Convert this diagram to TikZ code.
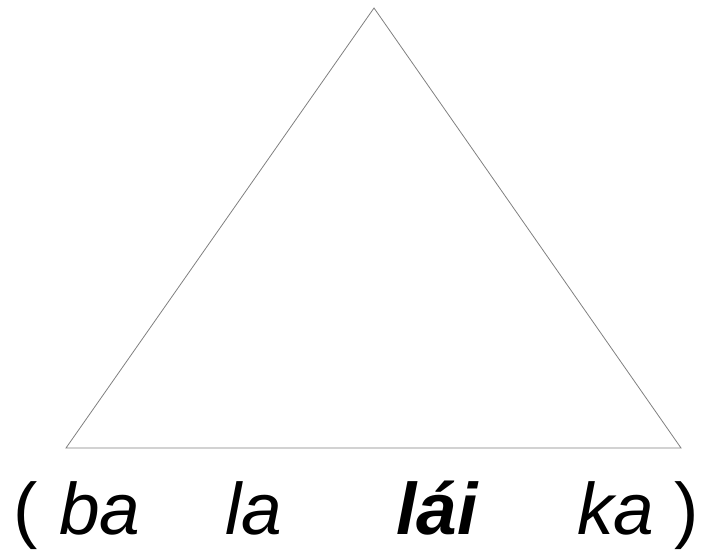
\documentclass[tikz,border=0pt]{standalone}
\usepackage{fontspec}
\setmainfont{Liberation Sans}
\begin{document}
\begin{tikzpicture}[x=1pt,y=1pt,
  word/.style={anchor=base west,inner sep=0pt,font=\fontsize{73}{86}\selectfont\itshape},
  boldword/.style={anchor=base west,inner sep=0pt,font=\fontsize{73}{86}\selectfont\bfseries\itshape},
  paren/.style={anchor=base west,inner sep=0pt,font=\fontsize{73}{86}\selectfont},
  tri/.style={draw=black!50,line width=0.8pt,line join=miter}]
\useasboundingbox (0,0) rectangle (704,553);
\coordinate (apex) at (374,545);
\coordinate (bl) at (66,105);
\coordinate (br) at (681,105);
\draw[tri] (apex) -- (bl) -- (br) -- cycle;
\node[paren] (lp) at (13,18) {(};
\node[word] (w1) at (59,18) {ba};
\node[word] (w2) at (225,18) {la};
\node[boldword] (w3) at (396,18) {lái};
\node[word] (w4) at (577,18) {ka};
\node[paren] (rp) at (674,18) {)};
\end{tikzpicture}
\end{document}
